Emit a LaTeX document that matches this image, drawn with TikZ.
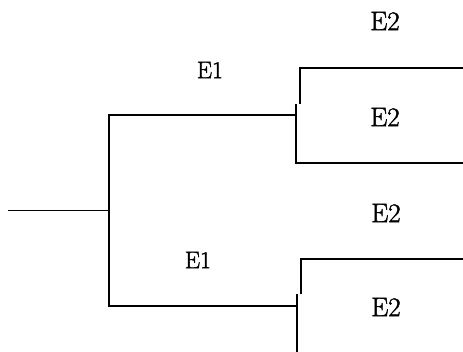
\documentclass[tikz,border=0pt]{standalone}
\usepackage{fontspec}
\setmainfont{Latin Modern Roman}
\newfontfamily\heavyroman[FakeBold=1.6]{Latin Modern Roman}
\begin{document}
\begin{tikzpicture}[x=1pt,y=-1pt,
  branch/.style={line width=1.3pt,line cap=rect},
  lblA/.style={inner sep=0pt,font=\heavyroman\fontsize{24}{26}\selectfont},
  lblB/.style={inner sep=0pt,font=\heavyroman\fontsize{27}{29}\selectfont}]
\useasboundingbox (0,0) rectangle (463,352);
% coordinates
\coordinate (r0) at (9,210.5);
\coordinate (r1) at (109,210.5);
\coordinate (ut) at (109,115);
\coordinate (lt) at (109,306);
\coordinate (ue) at (296,115);
\coordinate (le) at (297,306);
% upper split
\coordinate (ua) at (296,105);
\coordinate (ub) at (296,163);
\coordinate (uc) at (463,163);
\coordinate (ud) at (300,103);
\coordinate (uf) at (300,68);
\coordinate (ug) at (463,68);
% lower split
\coordinate (la) at (297,295);
\coordinate (lb) at (297,352);
\coordinate (ld) at (301,293);
\coordinate (lf) at (301,259);
\coordinate (lg) at (463,259);
% drawing
\draw[branch] (r0) -- (r1);
\draw[branch] (ut) -- (lt);
\draw[branch] (ut) -- (ue);
\draw[branch] (lt) -- (le);
\draw[branch] (ua) -- (ub) -- (uc);
\draw[branch] (ud) -- (uf) -- (ug);
\draw[branch] (la) -- (lb);
\draw[branch] (ld) -- (lf) -- (lg);
% labels
\node[lblB] (e2a) at (385,21) {E2};
\node[lblA] (e1a) at (210,70) {E1};
\node[lblB] (e2b) at (385,117) {E2};
\node[lblB] (e2c) at (386,213) {E2};
\node[lblA] (e1b) at (198,260) {E1};
\node[lblB] (e2d) at (386,307) {E2};
\end{tikzpicture}
\end{document}
